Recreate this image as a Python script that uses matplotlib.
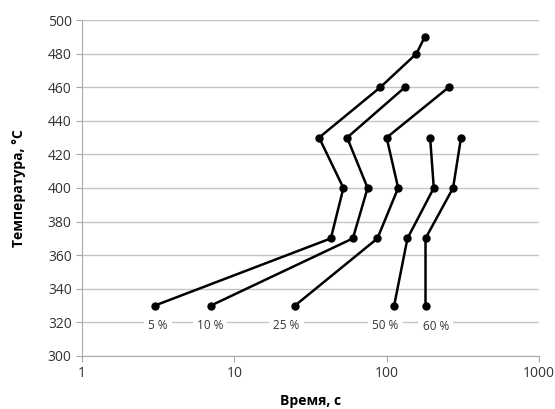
import numpy as np
import matplotlib.pyplot as plt
from matplotlib.ticker import FixedLocator, FixedFormatter

plt.rcParams['font.family'] = ['Open Sans', 'DejaVu Sans']

temps_5 = [330, 370, 400, 430, 460, 480, 490]
time_5 = [3.0, 43, 52, 36, 91, 157, 178]

temps_10 = [330, 370, 400, 430, 460]
time_10 = [7.0, 60, 75, 55, 132]

temps_25 = [330, 370, 400, 430, 460]
time_25 = [25, 87, 119, 100, 256]

temps_50 = [330, 370, 400, 430]
time_50 = [112, 137, 204, 193]

temps_60 = [330, 370, 400, 430]
time_60 = [180, 180, 273, 308]

labels = ['5 %', '10 %', '25 %', '50 %', '60 %']
label_x = [3.15, 6.9, 22, 98, 210]
label_y = [318, 318, 318, 318, 317.5]

fig = plt.figure(figsize=(5.55, 4.09), dpi=100)
ax = fig.add_axes([0.148, 0.1296, 0.823, 0.8215])

series = [(time_5, temps_5), (time_10, temps_10), (time_25, temps_25),
          (time_50, temps_50), (time_60, temps_60)]
for t, T in series:
    ax.plot(t, T, color='black', lw=1.8, marker='o', ms=5, zorder=3)

for lab, lx, ly in zip(labels, label_x, label_y):
    ax.text(lx, ly, lab, ha='center', va='center', fontsize=8.5, color='#333333',
            bbox=dict(facecolor='white', edgecolor='none', pad=3), zorder=2)

ax.set_xscale('log')
ax.set_xlim(1, 1000)
ax.set_ylim(300, 500)
ax.xaxis.set_major_locator(FixedLocator([1, 10, 100, 1000]))
ax.xaxis.set_major_formatter(FixedFormatter(['1', '10', '100', '1000']))
ax.xaxis.set_minor_locator(FixedLocator([]))
ax.set_yticks(np.arange(300, 501, 20))

ax.grid(axis='y', color='#c4c4c4', lw=1.0, zorder=0)
ax.set_axisbelow(True)
for s in ['top', 'right']:
    ax.spines[s].set_visible(False)
for s in ['left', 'bottom']:
    ax.spines[s].set_color('#aaaaaa')
ax.tick_params(axis='both', colors='#aaaaaa', labelcolor='#333333', labelsize=10, length=4)

ax.set_xlabel('Время, с', fontsize=10, fontweight='bold', labelpad=9)
ax.set_ylabel('Температура, °C', fontsize=10, fontweight='bold', labelpad=16)

fig.savefig('out.png', dpi=100)
